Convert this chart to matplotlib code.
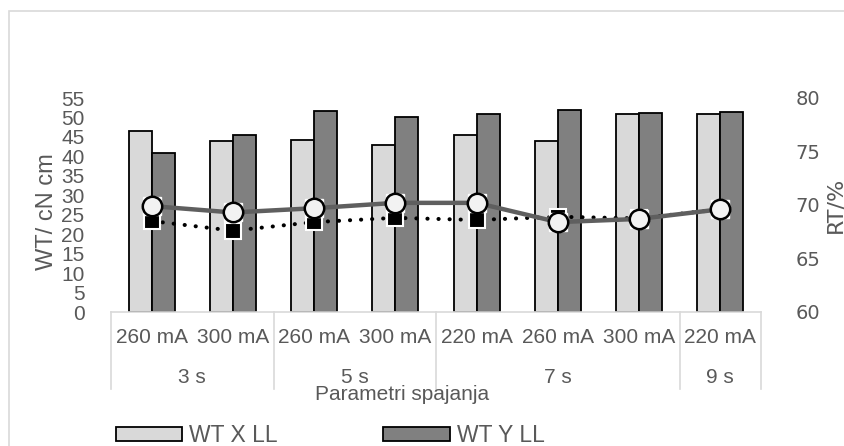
import matplotlib
matplotlib.use("Agg")
import matplotlib.pyplot as plt
from matplotlib.patches import Rectangle, Patch
import numpy as np

categories = ["260 mA", "300 mA", "260 mA", "300 mA", "220 mA", "260 mA", "300 mA", "220 mA"]
group_labels = ["3 s", "5 s", "7 s", "9 s"]
group_sizes = [2, 2, 3, 1]
wt_x_ll = [46.6, 44.0, 44.2, 42.9, 45.5, 44.0, 50.8, 51.0]
wt_y_ll = [40.8, 45.6, 51.7, 50.0, 50.9, 51.9, 51.2, 51.4]
rt_x_ll = [68.5, 67.6, 68.4, 68.8, 68.6, 68.9, 68.75, 69.6]
rt_y_ll = [69.9, 69.3, 69.7, 70.2, 70.2, 68.4, 68.7, 69.6]
left_ticks = list(range(0, 56, 5))
right_ticks = [60, 65, 70, 75, 80]

TXT = "#595959"
LIGHT = "#D9D9D9"
DARK = "#808080"
FONT = "Liberation Sans"

W, H = 844, 446
fig = plt.figure(figsize=(W / 100, H / 100), dpi=100)

# outer chart border
fig.add_artist(Rectangle((9 / W, -0.1), 1.2, 1 - 11 / H + 0.1, transform=fig.transFigure,
                         fill=False, edgecolor=LIGHT, linewidth=1.2))

ax_l, ax_r, ax_t, ax_b = 111, 761, 98, 312
ax = fig.add_axes([ax_l / W, 1 - ax_b / H, (ax_r - ax_l) / W, (ax_b - ax_t) / H])
x = np.arange(len(categories))
bw = 0.283
ax.bar(x - bw / 2, wt_x_ll, bw, color=LIGHT, edgecolor="black", linewidth=1.3, label="WT X LL")
ax.bar(x + bw / 2, wt_y_ll, bw, color=DARK, edgecolor="black", linewidth=1.3, label="WT Y LL")
ax.set_xlim(-0.5, len(categories) - 0.5)
ax.set_ylim(0, 55)
ax.set_yticks(left_ticks)
ax.set_yticklabels([str(t) for t in left_ticks], fontfamily=FONT, fontsize=15, color=TXT)
ax.tick_params(axis="y", length=0, pad=19)
ax.set_xticks([])
for s in ["top", "right", "left"]:
    ax.spines[s].set_visible(False)
ax.spines["bottom"].set_color(LIGHT)
ax.spines["bottom"].set_linewidth(1.2)

# category axis
trans = ax.get_xaxis_transform()
for i, c in enumerate(categories):
    ax.text(i, -0.121, c, transform=trans, ha="center", va="center",
            fontfamily=FONT, fontsize=15, color=TXT)
start = 0
bounds = [-0.5]
for lab, n in zip(group_labels, group_sizes):
    center = start + (n - 1) / 2
    ax.text(center, -0.308, lab, transform=trans, ha="center", va="center",
            fontfamily=FONT, fontsize=15, color=TXT)
    start += n
    bounds.append(start - 0.5)
for b in bounds:
    ax.plot([b, b], [0, -0.36], transform=trans, color=LIGHT, linewidth=1.2, clip_on=False)

# right axis with lines
ax2 = ax.twinx()
ax2.set_ylim(60, 80)
ax2.set_yticks(right_ticks)
ax2.set_yticklabels([str(t) for t in right_ticks], fontfamily="DejaVu Sans", fontsize=14, color=TXT)
ax2.tick_params(axis="y", length=0, pad=25)
for s in ["top", "right", "left", "bottom"]:
    ax2.spines[s].set_visible(False)

ax2.plot(x, rt_x_ll, color="black", linewidth=2.9, linestyle=(0, (0.05, 2.7)),
         dash_capstyle="round", zorder=3)
ax2.plot(x, rt_x_ll, linestyle="none", marker="s", markersize=12, markerfacecolor="black",
         markeredgecolor="white", markeredgewidth=1.5, zorder=4)
ax2.plot(x, rt_y_ll, color="#5F5F5F", linewidth=3.2, zorder=5, solid_capstyle="butt")
ax2.plot(x, rt_y_ll, linestyle="none", marker="s", markersize=13, markerfacecolor="white",
         markeredgecolor="white", zorder=6)
ax2.plot(x, rt_y_ll, linestyle="none", marker="o", markersize=14, markerfacecolor="#F2F2F2",
         markeredgecolor="black", markeredgewidth=1.8, zorder=7)

# axis titles
fig.text(47 / W, 1 - 212 / H, "WT/ cN cm", rotation=90, ha="center", va="center",
         fontfamily=FONT, fontsize=17, color=TXT)
fig.text(835 / W, 1 - 205 / H, "RT/%", rotation=90, ha="center", va="center",
         fontfamily="DejaVu Sans", fontsize=16, color=TXT)
fig.text(402 / W, 1 - 394 / H, "Parametri spajanja", ha="center", va="center",
         fontfamily=FONT, fontsize=15, color=TXT)

# legend
handles = [Patch(facecolor=LIGHT, edgecolor="black", linewidth=1.3),
           Patch(facecolor=DARK, edgecolor="black", linewidth=1.3)]
fig.legend(handles, ["WT X LL", "WT Y LL"], loc="center left",
           bbox_to_anchor=(116 / W, 1 - 436 / H), ncol=2, frameon=False,
           borderpad=0, borderaxespad=0, handlelength=2.9, handleheight=0.57,
           handletextpad=0.3, columnspacing=4.6,
           prop={"family": FONT, "size": 16.5}, labelcolor=TXT)

fig.savefig("out.png", dpi=100)
